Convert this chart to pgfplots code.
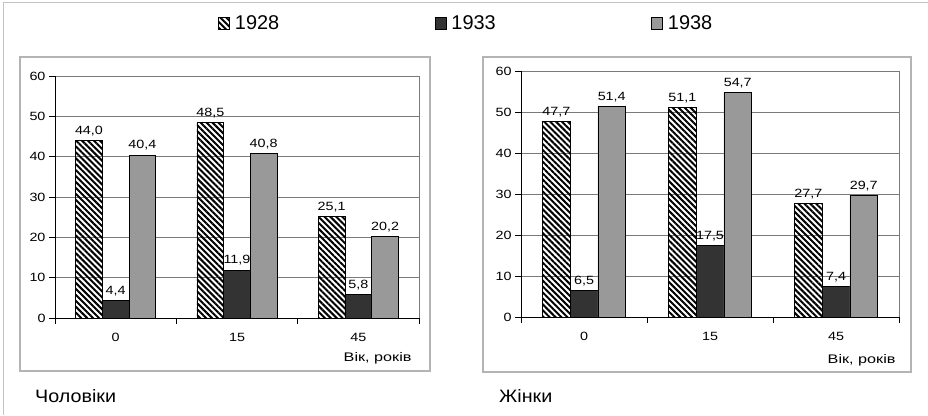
\documentclass[border=0pt]{standalone}
\usepackage{fontspec}
\setmainfont{Liberation Sans}
\usepackage{pgfplots}
\pgfplotsset{compat=1.18}
\usetikzlibrary{patterns.meta}

\definecolor{gridgray}{HTML}{7A7A7A}
\definecolor{framegray}{HTML}{B4B4B4}
\definecolor{darkbar}{HTML}{333333}
\definecolor{lightbar}{HTML}{999999}

% chart text is a little wider than the font
\newcommand{\sx}[1]{\scalebox{1.2}[1]{\fontsize{12}{14}\selectfont #1}}

\pgfplotsset{
  agechart/.style={
    scale only axis,
    anchor=south west,
    ybar=0pt,
    bar width=0.22,
    xmin=-0.5, xmax=2.5, ymin=0, ymax=60,
    ytick={0,10,...,60},
    xtick={-0.5,0.5,1.5,2.5}, xticklabels={},
    extra x ticks={0,1,2},
    extra x tick labels={\sx{0},\sx{15},\sx{45}},
    extra x tick style={major tick length=0pt, xticklabel style={yshift=-12bp}},
    tick align=outside, major tick length=6bp,
    tick style={black, line width=0.6bp},
    axis lines*=left,
    axis line style={black, line width=0.8bp},
    ymajorgrids, grid style={gridgray, line width=0.8bp},
    /pgf/number format/assume math mode=true,
    yticklabel={\sx{\pgfmathprintnumber{\tick}}},
    nodes near coords={\sx{\pgfmathprintnumber[fixed,fixed zerofill,precision=1,use comma]{\pgfplotspointmeta}}},
    every node near coord/.append style={yshift=1bp},
    xlabel={{\fontsize{12.5}{15}\selectfont\scalebox{1.3}[1]{Вік, років}}},
    clip=false,
  },
  hatchbar/.style={draw=black, line width=0.7bp,
    pattern={Lines[angle=-45,distance=4.2bp,line width=2bp]}, bar shift=-0.22},
  darkbar/.style={draw=black, line width=0.7bp, fill=darkbar, bar shift=0},
  greybar/.style={draw=black, line width=0.7bp, fill=lightbar, bar shift=0.22},
}

\begin{document}
\begin{tikzpicture}[x=1bp,y=1bp]
\useasboundingbox (0,0) rectangle (928,415);
\fill[white] (0,0) rectangle (928,415);
\draw[framegray!80, line width=1bp] (3,0) -- (3,412.5) -- (928,412.5);

% panel frames
\draw[framegray, line width=1.2bp] (20,44) rectangle (430,358);
\draw[framegray, line width=1.2bp] (483,43) rectangle (911,358);

% men
\begin{axis}[agechart, at={(55bp,97bp)}, width=364bp, height=242bp,
  every axis x label/.style={at={(axis description cs:0.989,-0.165)}, anchor=east},
  legend columns=3,
  legend image code/.code={\draw[#1] (0bp,-6bp) rectangle (11bp,6bp); \path (14bp,0bp);},
  legend style={at={(axis description cs:0.448,1.217)}, anchor=west,
    draw=none, fill=none, inner sep=0pt,
    font=\fontsize{20}{24}\selectfont,
    /tikz/every even column/.append style={column sep=153.5bp}},
]
\addplot[hatchbar] coordinates {(0,44.0) (1,48.5) (2,25.1)};
\addplot[darkbar] coordinates {(0,4.4) (1,11.9) (2,5.8)};
\addplot[greybar] coordinates {(0,40.4) (1,40.8) (2,20.2)};
\draw[gridgray, line width=0.8bp] (rel axis cs:1,0) -- (rel axis cs:1,1);
\legend{1928,1933,1938}
\end{axis}

% women
\begin{axis}[agechart, at={(521bp,98bp)}, width=378bp, height=246bp,
  every axis x label/.style={at={(axis description cs:1.0,-0.175)}, anchor=east},
]
\addplot[hatchbar] coordinates {(0,47.7) (1,51.1) (2,27.7)};
\addplot[darkbar] coordinates {(0,6.5) (1,17.5) (2,7.4)};
\addplot[greybar] coordinates {(0,51.4) (1,54.7) (2,29.7)};
\draw[gridgray, line width=0.8bp] (rel axis cs:1,0) -- (rel axis cs:1,1);
\end{axis}

\node[anchor=base west, inner sep=0pt, font=\fontsize{18}{21}\selectfont] at (35,13) {\scalebox{1.1}[1]{Чоловіки}};
\node[anchor=base west, inner sep=0pt, font=\fontsize{18}{21}\selectfont] at (499,13) {\scalebox{1.1}[1]{Жінки}};
\end{tikzpicture}
\end{document}
